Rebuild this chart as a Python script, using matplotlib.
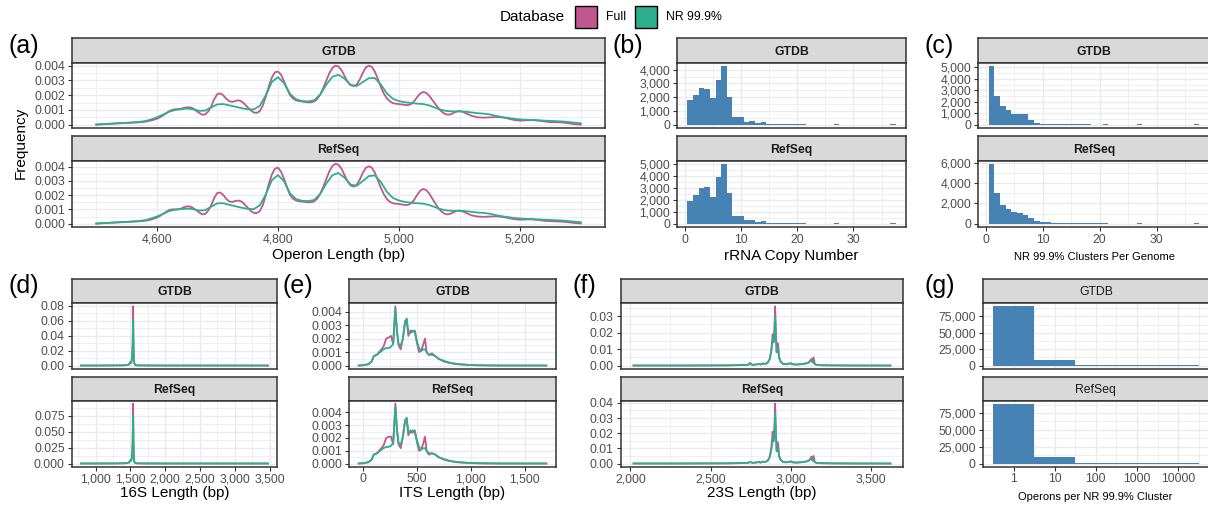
import matplotlib
matplotlib.use('Agg')
import matplotlib.pyplot as plt
import numpy as np
from matplotlib.patches import Rectangle
from matplotlib.ticker import FuncFormatter, FixedLocator, NullFormatter

plt.rcParams['font.family'] = ['Liberation Sans', 'DejaVu Sans']

# ---------------- DATA ----------------
databases = ['GTDB', 'RefSeq']
series_names = ['Full', 'NR 99.9%']

# (a) operon length density
# Full curves read on a finer grid (5 bp between 4600 and 5110)
operon_x_full = list(range(4500, 4600, 10)) + list(range(4600, 5115, 5)) + list(range(5120, 5301, 10))
operon_gtdb_full = ([0.00000, 0.00003, 0.00005, 0.00008, 0.00010, 0.00012, 0.00014, 0.00016, 0.00020, 0.00028] +
                    [0.00040, 0.00050, 0.00062, 0.00076, 0.00090, 0.00100, 0.00105, 0.00106, 0.00108, 0.00114,
                     0.00118, 0.00118, 0.00110, 0.00095, 0.00080, 0.00068, 0.00070, 0.00090, 0.00125, 0.00175,
                     0.00208, 0.00212, 0.00198, 0.00175, 0.00158, 0.00155, 0.00162, 0.00165, 0.00158, 0.00140,
                     0.00118, 0.00098, 0.00083, 0.00080, 0.00092, 0.00130, 0.00190, 0.00260, 0.00320, 0.00355,
                     0.00360, 0.00340, 0.00295, 0.00245, 0.00200, 0.00178, 0.00165, 0.00160, 0.00157, 0.00154,
                     0.00152, 0.00152, 0.00158, 0.00175, 0.00205, 0.00250, 0.00300, 0.00350, 0.00385, 0.00400,
                     0.00395, 0.00370, 0.00330, 0.00290, 0.00268, 0.00262, 0.00272, 0.00305, 0.00350, 0.00388,
                     0.00400, 0.00392, 0.00360, 0.00310, 0.00255, 0.00210, 0.00178, 0.00158, 0.00146, 0.00142,
                     0.00140, 0.00137, 0.00134, 0.00133, 0.00140, 0.00160, 0.00188, 0.00212, 0.00222, 0.00215,
                     0.00195, 0.00168, 0.00140, 0.00112, 0.00090, 0.00075, 0.00068, 0.00070, 0.00080, 0.00090,
                     0.00093, 0.00088, 0.00078] +
                    [0.00060, 0.00050, 0.00048, 0.00050, 0.00052, 0.00050, 0.00042, 0.00032, 0.00028, 0.00030,
                     0.00032, 0.00028, 0.00022, 0.00018, 0.00017, 0.00015, 0.00010, 0.00004, 0.00001])
operon_refseq_full = ([0.00000, 0.00003, 0.00005, 0.00008, 0.00010, 0.00012, 0.00014, 0.00016, 0.00020, 0.00028] +
                      [0.00042, 0.00054, 0.00068, 0.00082, 0.00095, 0.00100, 0.00100, 0.00101, 0.00105, 0.00116,
                       0.00122, 0.00120, 0.00110, 0.00094, 0.00078, 0.00066, 0.00068, 0.00092, 0.00130, 0.00182,
                       0.00216, 0.00218, 0.00200, 0.00172, 0.00155, 0.00152, 0.00160, 0.00162, 0.00155, 0.00135,
                       0.00112, 0.00090, 0.00076, 0.00074, 0.00088, 0.00130, 0.00200, 0.00280, 0.00345, 0.00385,
                       0.00392, 0.00365, 0.00315, 0.00255, 0.00200, 0.00175, 0.00162, 0.00157, 0.00155, 0.00152,
                       0.00150, 0.00150, 0.00157, 0.00176, 0.00210, 0.00260, 0.00315, 0.00368, 0.00405, 0.00420,
                       0.00412, 0.00385, 0.00340, 0.00295, 0.00268, 0.00260, 0.00272, 0.00308, 0.00355, 0.00390,
                       0.00402, 0.00392, 0.00358, 0.00305, 0.00250, 0.00205, 0.00172, 0.00152, 0.00143, 0.00140,
                       0.00138, 0.00134, 0.00131, 0.00132, 0.00142, 0.00168, 0.00202, 0.00232, 0.00243, 0.00235,
                       0.00210, 0.00175, 0.00140, 0.00108, 0.00085, 0.00070, 0.00065, 0.00070, 0.00080, 0.00090,
                       0.00092, 0.00086, 0.00076] +
                      [0.00058, 0.00050, 0.00048, 0.00050, 0.00052, 0.00048, 0.00040, 0.00032, 0.00028, 0.00030,
                       0.00030, 0.00026, 0.00020, 0.00018, 0.00016, 0.00014, 0.00010, 0.00005, 0.00002])
# NR curves read every 10 bp
operon_x_nr = list(range(4500, 5301, 10))
operon_gtdb_nr = [0.00002, 0.00004, 0.00006, 0.00009, 0.00011, 0.00013, 0.00016, 0.00019, 0.00024, 0.00035,
                  0.00050, 0.00068, 0.00088, 0.00100, 0.00105, 0.00110, 0.00105, 0.00094, 0.00096, 0.00118,
                  0.00138, 0.00140, 0.00131, 0.00122, 0.00112, 0.00105, 0.00104, 0.00128, 0.00200, 0.00290,
                  0.00322, 0.00282, 0.00208, 0.00172, 0.00160, 0.00158, 0.00166, 0.00205, 0.00272, 0.00325,
                  0.00338, 0.00312, 0.00270, 0.00262, 0.00288, 0.00315, 0.00316, 0.00272, 0.00212, 0.00175,
                  0.00160, 0.00152, 0.00147, 0.00143, 0.00140, 0.00130, 0.00115, 0.00100, 0.00092, 0.00090,
                  0.00090, 0.00088, 0.00083, 0.00078, 0.00075, 0.00070, 0.00060, 0.00052, 0.00046, 0.00040,
                  0.00036, 0.00034, 0.00032, 0.00030, 0.00028, 0.00026, 0.00024, 0.00022, 0.00018, 0.00014,
                  0.00010]
operon_refseq_nr = [0.00002, 0.00004, 0.00006, 0.00009, 0.00011, 0.00013, 0.00016, 0.00019, 0.00024, 0.00035,
                    0.00050, 0.00068, 0.00088, 0.00098, 0.00102, 0.00106, 0.00102, 0.00092, 0.00095, 0.00120,
                    0.00143, 0.00143, 0.00132, 0.00122, 0.00112, 0.00104, 0.00102, 0.00128, 0.00205, 0.00305,
                    0.00340, 0.00298, 0.00212, 0.00172, 0.00160, 0.00158, 0.00166, 0.00210, 0.00282, 0.00340,
                    0.00355, 0.00322, 0.00274, 0.00265, 0.00298, 0.00333, 0.00338, 0.00292, 0.00222, 0.00180,
                    0.00162, 0.00152, 0.00147, 0.00143, 0.00140, 0.00130, 0.00115, 0.00100, 0.00092, 0.00090,
                    0.00090, 0.00088, 0.00083, 0.00078, 0.00075, 0.00070, 0.00060, 0.00052, 0.00046, 0.00040,
                    0.00036, 0.00034, 0.00032, 0.00030, 0.00028, 0.00026, 0.00024, 0.00022, 0.00018, 0.00014,
                    0.00010]

# (b) rRNA copy number histogram
copy_number = list(range(1, 38))
copy_gtdb = [1770, 2130, 2700, 2590, 1920, 3280, 4290, 1990, 575, 575, 190, 265, 120, 190, 60, 50, 45, 40, 35,
             30, 28, 10, 10, 10, 10, 10, 25, 10, 10, 10, 10, 10, 10, 10, 10, 10, 25]
copy_refseq = [1920, 2430, 2970, 3110, 2260, 3960, 5060, 2600, 650, 650, 310, 310, 140, 225, 60, 55, 50, 45, 40,
               35, 30, 10, 10, 10, 10, 10, 30, 10, 10, 10, 10, 10, 10, 10, 10, 10, 30]

# (c) NR 99.9% clusters per genome histogram
clusters_per_genome = list(range(1, 38))
clust_gtdb = [5140, 2530, 1630, 1265, 960, 930, 930, 420, 170, 85, 45, 40, 35, 32, 30, 28, 25, 22, 20, 10, 30,
              10, 10, 10, 10, 10, 30, 10, 10, 10, 10, 10, 10, 10, 10, 10, 30]
clust_refseq = [5940, 2990, 1850, 1430, 1140, 1070, 880, 520, 290, 130, 130, 45, 40, 35, 32, 30, 28, 25, 22, 20,
                20, 10, 10, 10, 10, 10, 35, 10, 10, 10, 10, 10, 10, 10, 10, 10, 35]

# (d) 16S length density
len16_x = [790, 1000, 1200, 1350, 1420, 1460, 1480, 1495, 1505, 1515, 1525, 1532, 1538, 1543, 1548, 1555, 1565,
           1580, 1620, 1700, 2000, 2500, 3000, 3475]
len16_gtdb_full = [0, 0, 0.0001, 0.0002, 0.0004, 0.0008, 0.0015, 0.004, 0.003, 0.005, 0.012, 0.030, 0.079,
                   0.035, 0.010, 0.003, 0.001, 0.0004, 0.0002, 0.0001, 0, 0, 0, 0]
len16_gtdb_nr = [0, 0, 0.0001, 0.0002, 0.0004, 0.0009, 0.0017, 0.0045, 0.0035, 0.0055, 0.012, 0.028, 0.060,
                 0.030, 0.009, 0.003, 0.001, 0.0004, 0.0002, 0.0001, 0, 0, 0, 0]
len16_refseq_full = [0, 0, 0.0001, 0.0002, 0.0004, 0.0008, 0.0015, 0.0045, 0.0035, 0.006, 0.014, 0.035, 0.094,
                     0.040, 0.011, 0.003, 0.001, 0.0004, 0.0002, 0.0001, 0, 0, 0, 0]
len16_refseq_nr = [0, 0, 0.0001, 0.0002, 0.0004, 0.0009, 0.0017, 0.005, 0.004, 0.0065, 0.014, 0.033, 0.075,
                   0.034, 0.010, 0.003, 0.001, 0.0004, 0.0002, 0.0001, 0, 0, 0, 0]

# (e) ITS length density
its_x = [-40, 0, 50, 80, 100, 130, 160, 190, 215, 240, 260, 280, 300, 315, 330, 350, 370, 390, 405, 420, 440,
         460, 480, 500, 520, 540, 560, 575, 590, 610, 640, 670, 700, 750, 800, 850, 900, 1000, 1100, 1300, 1700]
its_gtdb_full = [0, 0.00002, 0.0001, 0.0003, 0.0007, 0.0008, 0.0011, 0.0014, 0.0020, 0.0021, 0.0022, 0.0016,
                 0.0044, 0.0025, 0.0015, 0.0012, 0.0020, 0.0033, 0.0034, 0.0022, 0.0026, 0.0025, 0.0026, 0.0017,
                 0.0010, 0.0011, 0.0016, 0.0020, 0.0010, 0.0008, 0.0009, 0.0007, 0.0005, 0.0003, 0.0002, 0.00012,
                 0.00008, 0.00003, 0.00001, 0, 0]
its_gtdb_nr = [0, 0.00002, 0.0001, 0.0003, 0.0007, 0.0008, 0.0010, 0.0012, 0.0013, 0.0013, 0.0014, 0.0016,
               0.0042, 0.0026, 0.0016, 0.0015, 0.0020, 0.0032, 0.0035, 0.0025, 0.0024, 0.0026, 0.0025, 0.0018,
               0.0013, 0.0011, 0.0012, 0.0012, 0.0010, 0.0008, 0.0008, 0.0007, 0.0005, 0.00035, 0.00022, 0.00015,
               0.0001, 0.00004, 0.00002, 0, 0]
its_refseq_full = [0, 0.00002, 0.0001, 0.0003, 0.0007, 0.0008, 0.0011, 0.0014, 0.0020, 0.0021, 0.0021, 0.0015,
                   0.0047, 0.0026, 0.0015, 0.0012, 0.0021, 0.0034, 0.0035, 0.0022, 0.0026, 0.0024, 0.0026, 0.0017,
                   0.0010, 0.0011, 0.0016, 0.0021, 0.0010, 0.0007, 0.0008, 0.0007, 0.0005, 0.0003, 0.0002, 0.00012,
                   0.00008, 0.00003, 0.00001, 0, 0]
its_refseq_nr = [0, 0.00002, 0.0001, 0.0003, 0.0007, 0.0008, 0.0010, 0.0012, 0.0013, 0.0013, 0.0014, 0.0016,
                 0.0044, 0.0027, 0.0016, 0.0015, 0.0021, 0.0033, 0.0036, 0.0025, 0.0024, 0.0026, 0.0025, 0.0018,
                 0.0013, 0.0011, 0.0012, 0.0012, 0.0010, 0.0008, 0.0008, 0.0007, 0.0005, 0.00035, 0.00022, 0.00015,
                 0.0001, 0.00004, 0.00002, 0, 0]

# (f) 23S length density
len23_x = [2020, 2300, 2600, 2700, 2735, 2745, 2752, 2760, 2780, 2800, 2810, 2825, 2840, 2855, 2868, 2878, 2886,
           2892, 2897, 2901, 2906, 2911, 2916, 2920, 2926, 2935, 2950, 2970, 2990, 3000, 3010, 3030, 3060, 3090,
           3110, 3120, 3127, 3133, 3140, 3148, 3160, 3190, 3250, 3400, 3619]
len23_gtdb_full = [0, 0, 0.0001, 0.0003, 0.0005, 0.0016, 0.0008, 0.0004, 0.0006, 0.0010, 0.0006, 0.0012, 0.0010,
                   0.0018, 0.0040, 0.0100, 0.0190, 0.0150, 0.0220, 0.0360, 0.0200, 0.0080, 0.0135, 0.0130, 0.0050,
                   0.0025, 0.0010, 0.0008, 0.0012, 0.0013, 0.0008, 0.0006, 0.0008, 0.0012, 0.0018, 0.0030, 0.0040,
                   0.0020, 0.0050, 0.0010, 0.0004, 0.0002, 0.0001, 0, 0]
len23_gtdb_nr = [0, 0, 0.0001, 0.0003, 0.0005, 0.0015, 0.0008, 0.0004, 0.0006, 0.0010, 0.0006, 0.0012, 0.0010,
                 0.0018, 0.0040, 0.0090, 0.0160, 0.0140, 0.0190, 0.0300, 0.0170, 0.0080, 0.0100, 0.0095, 0.0045,
                 0.0025, 0.0010, 0.0008, 0.0012, 0.0013, 0.0008, 0.0006, 0.0008, 0.0012, 0.0018, 0.0030, 0.0032,
                 0.0020, 0.0018, 0.0008, 0.0004, 0.0002, 0.0001, 0, 0]
len23_refseq_full = [0, 0, 0.0001, 0.0003, 0.0005, 0.0010, 0.0008, 0.0004, 0.0006, 0.0010, 0.0006, 0.0012, 0.0010,
                     0.0018, 0.0045, 0.0110, 0.0210, 0.0160, 0.0240, 0.0396, 0.0210, 0.0085, 0.0140, 0.0130, 0.0050,
                     0.0025, 0.0010, 0.0008, 0.0012, 0.0013, 0.0008, 0.0006, 0.0008, 0.0012, 0.0018, 0.0030, 0.0045,
                     0.0020, 0.0050, 0.0010, 0.0004, 0.0002, 0.0001, 0, 0]
len23_refseq_nr = [0, 0, 0.0001, 0.0003, 0.0005, 0.0010, 0.0008, 0.0004, 0.0006, 0.0010, 0.0006, 0.0012, 0.0010,
                   0.0018, 0.0042, 0.0095, 0.0160, 0.0145, 0.0200, 0.0334, 0.0180, 0.0080, 0.0105, 0.0095, 0.0045,
                   0.0025, 0.0010, 0.0008, 0.0012, 0.0013, 0.0008, 0.0006, 0.0008, 0.0012, 0.0018, 0.0030, 0.0035,
                   0.0020, 0.0018, 0.0008, 0.0004, 0.0002, 0.0001, 0, 0]

# (g) operons per NR 99.9% cluster (log10 bins)
operons_per_cluster = [1, 10, 100, 1000, 10000]
opc_gtdb = [90600, 8800, 1200, 700, 60]
opc_refseq = [89000, 9600, 1200, 700, 60]

# ---------------- STYLE ----------------
W, H, DPI = 1208, 509, 100
COL_FULL = '#C0578F'
COL_NR = '#2DAE8F'
BAR = '#4682B4'
GRID = '#EBEBEB'
DARK = '#333333'
TICKC = '#4D4D4D'

fig = plt.figure(figsize=(W / DPI, H / DPI), dpi=DPI)


def px_axes(l, t, r, b):
    return fig.add_axes([l / W, 1 - b / H, (r - l) / W, (b - t) / H])


def ftext(x, y, s, **kw):
    fig.text(x / W, 1 - y / H, s, **kw)


def strip(l, r, t, b, text, bold=True):
    ax = px_axes(l, t, r, b)
    ax.set_facecolor('#D9D9D9')
    ax.set_xticks([])
    ax.set_yticks([])
    for s in ax.spines.values():
        s.set_color(DARK)
        s.set_linewidth(1.1)
    ax.text(0.5, 0.45, text, ha='center', va='center', fontsize=8.8,
            fontweight='bold' if bold else 'normal', color='#1A1A1A', transform=ax.transAxes)


def comma(v, p=None):
    return '{:,.0f}'.format(v)


def dec(n):
    return FuncFormatter(lambda v, p: ('{:.%df}' % n).format(v))


def style(ax, xmaj, xmin, ymaj, ymin, xfmt, yfmt, xlim, ylim, show_x):
    ax.set_xlim(*xlim)
    ax.set_ylim(*ylim)
    ax.xaxis.set_major_locator(FixedLocator(xmaj))
    ax.xaxis.set_minor_locator(FixedLocator(xmin))
    ax.yaxis.set_major_locator(FixedLocator(ymaj))
    ax.yaxis.set_minor_locator(FixedLocator(ymin))
    ax.xaxis.set_major_formatter(xfmt)
    ax.yaxis.set_major_formatter(yfmt)
    ax.xaxis.set_minor_formatter(NullFormatter())
    ax.yaxis.set_minor_formatter(NullFormatter())
    ax.grid(which='major', color=GRID, lw=1.0)
    ax.grid(which='minor', color=GRID, lw=0.55)
    ax.set_axisbelow(True)
    for s in ax.spines.values():
        s.set_color(DARK)
        s.set_linewidth(1.1)
    ax.tick_params(which='major', length=2.75, width=0.8, color=DARK, labelsize=8.8,
                   labelcolor=TICKC, pad=2.2)
    ax.tick_params(which='minor', length=0)
    if not show_x:
        ax.tick_params(axis='x', which='major', length=0, labelbottom=False)


def expand(lo, hi, f=0.05):
    d = hi - lo
    return (lo - f * d, hi + f * d)


TOP = [(38.3, 62.7, 127.7), (136.0, 160.7, 226.7)]
BOT = [(279.0, 303.3, 368.5), (377.0, 400.5, 466.5)]


def density_panel(l, r, rows, curves, xmaj, xmin, yspecs, xfmt):
    allx = [v for (xf, yf, xn, yn) in curves for v in list(xf) + list(xn)]
    xlim = expand(min(allx), max(allx))
    for i, ((st, pt, pb), (xf, yf, xn, yn), (ymaj, ymin, yfmt), name) in enumerate(
            zip(rows, curves, yspecs, databases)):
        strip(l, r, st, pt, name)
        ax = px_axes(l, pt, r, pb)
        ax.plot(xf, yf, color=COL_FULL, lw=1.3, solid_joinstyle='round')
        ax.plot(xn, yn, color=COL_NR, lw=1.3, solid_joinstyle='round')
        ylim = expand(0, max(max(yf), max(yn)))
        style(ax, xmaj, xmin, ymaj, ymin, xfmt, yfmt, xlim, ylim, i == 1)


def hist_panel(l, r, rows, x, vals, xmaj, xmin, yspecs, xfmt, bold=True, log=False):
    for i, ((st, pt, pb), v, (ymaj, ymin, yfmt), name) in enumerate(zip(rows, vals, yspecs, databases)):
        strip(l, r, st, pt, name, bold=bold)
        ax = px_axes(l, pt, r, pb)
        if log:
            ax.set_xscale('log')
            c = np.array(x, dtype=float)
            lefts = c / np.sqrt(10)
            widths = c * np.sqrt(10) - lefts
            ax.bar(lefts, v, width=widths, align='edge', color=BAR, linewidth=0)
            lc = np.log10(c)
            xl = expand(lc.min() - 0.5, lc.max() + 0.5)
            xlim = (10 ** xl[0], 10 ** xl[1])
        else:
            ax.bar(x, v, width=1.0, color=BAR, linewidth=0)
            xlim = expand(min(x) - 0.5, max(x) + 0.5)
        ylim = expand(0, max(v))
        style(ax, xmaj, xmin, ymaj, ymin, xfmt, yfmt, xlim, ylim, i == 1)


# (a)
density_panel(72, 605, TOP,
              [(operon_x_full, operon_gtdb_full, operon_x_nr, operon_gtdb_nr),
               (operon_x_full, operon_refseq_full, operon_x_nr, operon_refseq_nr)],
              [4600, 4800, 5000, 5200], [4500, 4700, 4900, 5100, 5300],
              [([0, 0.001, 0.002, 0.003, 0.004], np.arange(0.0005, 0.0045, 0.001), dec(3))] * 2,
              FuncFormatter(comma))

# (b)
hist_panel(677, 906, TOP, copy_number, [copy_gtdb, copy_refseq],
           [0, 10, 20, 30], [5, 15, 25, 35],
           [([0, 1000, 2000, 3000, 4000], [500, 1500, 2500, 3500, 4500], FuncFormatter(comma)),
            ([0, 1000, 2000, 3000, 4000, 5000], [500, 1500, 2500, 3500, 4500, 5500], FuncFormatter(comma))],
           FuncFormatter(lambda v, p: '%d' % v))

# (c)
hist_panel(978, 1210, TOP, clusters_per_genome, [clust_gtdb, clust_refseq],
           [0, 10, 20, 30], [5, 15, 25, 35],
           [([0, 1000, 2000, 3000, 4000, 5000], [500, 1500, 2500, 3500, 4500, 5500], FuncFormatter(comma)),
            ([0, 2000, 4000, 6000], [1000, 3000, 5000], FuncFormatter(comma))],
           FuncFormatter(lambda v, p: '%d' % v))

# (d)
density_panel(71.7, 277.3, BOT,
              [(len16_x, len16_gtdb_full, len16_x, len16_gtdb_nr),
               (len16_x, len16_refseq_full, len16_x, len16_refseq_nr)],
              [1000, 1500, 2000, 2500, 3000, 3500], [750, 1250, 1750, 2250, 2750, 3250],
              [([0, 0.02, 0.04, 0.06, 0.08], [0.01, 0.03, 0.05, 0.07], dec(2)),
               ([0, 0.025, 0.05, 0.075], [0.0125, 0.0375, 0.0625, 0.0875], dec(3))],
              FuncFormatter(comma))

# (e)
density_panel(349.3, 555.7, BOT,
              [(its_x, its_gtdb_full, its_x, its_gtdb_nr),
               (its_x, its_refseq_full, its_x, its_refseq_nr)],
              [0, 500, 1000, 1500], [250, 750, 1250],
              [([0, 0.001, 0.002, 0.003, 0.004], np.arange(0.0005, 0.0045, 0.001), dec(3))] * 2,
              FuncFormatter(comma))

# (f)
density_panel(620.7, 903.3, BOT,
              [(len23_x, len23_gtdb_full, len23_x, len23_gtdb_nr),
               (len23_x, len23_refseq_full, len23_x, len23_refseq_nr)],
              [2000, 2500, 3000, 3500], [2250, 2750, 3250],
              [([0, 0.01, 0.02, 0.03], [0.005, 0.015, 0.025, 0.035], dec(2)),
               ([0, 0.01, 0.02, 0.03, 0.04], [0.005, 0.015, 0.025, 0.035], dec(2))],
              FuncFormatter(comma))

# (g)
hist_panel(982.7, 1209, BOT, operons_per_cluster, [opc_gtdb, opc_refseq],
           [1, 10, 100, 1000, 10000], list(10 ** np.arange(-0.5, 5, 1.0)),
           [([0, 25000, 50000, 75000], [12500, 37500, 62500, 87500], FuncFormatter(comma))] * 2,
           FuncFormatter(lambda v, p: '%g' % v), bold=False, log=True)

# axis titles
ftext(338.5, 255, 'Operon Length (bp)', ha='center', va='center', fontsize=11)
ftext(791.5, 256, 'rRNA Copy Number', ha='center', va='center', fontsize=11)
ftext(1094, 257, 'NR 99.9% Clusters Per Genome', ha='center', va='center', fontsize=8)
ftext(174.5, 493, '16S Length (bp)', ha='center', va='center', fontsize=11)
ftext(452.5, 493, 'ITS Length (bp)', ha='center', va='center', fontsize=11)
ftext(762, 493, '23S Length (bp)', ha='center', va='center', fontsize=11)
ftext(1095.5, 497, 'Operons per NR 99.9% Cluster', ha='center', va='center', fontsize=8)
ftext(21, 143, 'Frequency', ha='center', va='center', fontsize=11, rotation=90)

# panel tags
for lab, x, y in [('(a)', 8, 46), ('(b)', 612, 46), ('(c)', 924, 46),
                  ('(d)', 8, 286), ('(e)', 283, 286), ('(f)', 573, 286), ('(g)', 925, 286)]:
    ftext(x, y, lab, ha='left', va='center', fontsize=18)

# legend
ftext(500, 17, 'Database', ha='left', va='center', fontsize=11)
for (bx, col, name, tx) in [(575, COL_FULL, series_names[0], 606), (635, COL_NR, series_names[1], 666)]:
    fig.patches.append(Rectangle((bx / W, 1 - 28 / H), 22 / W, 22 / H, transform=fig.transFigure,
                                 facecolor=col, edgecolor='black', lw=1.0))
    ftext(tx, 17, name, ha='left', va='center', fontsize=8.8)

fig.savefig('out.png', dpi=DPI)
